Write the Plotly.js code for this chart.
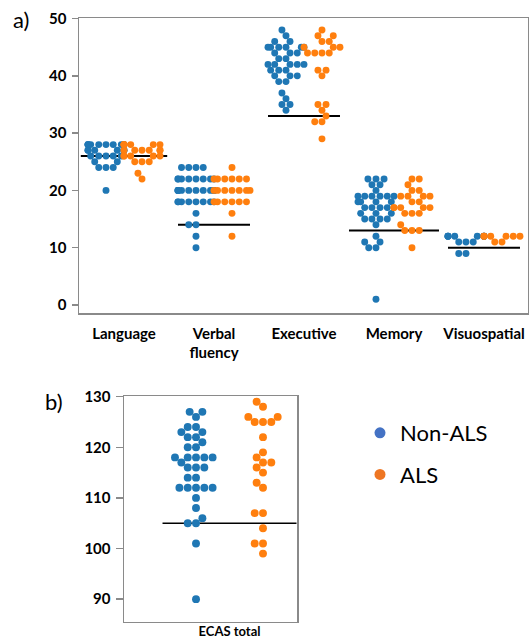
<!DOCTYPE html>
<html>
<head>
<meta charset="utf-8">
<script src="https://cdn.plot.ly/plotly-3.0.1.min.js"></script>
<style>html,body{margin:0;padding:0;background:#fff;}#chart{width:529px;height:641px;}</style>
</head>
<body>
<div id="chart"></div>
<script>
// ---------- data ----------
const categories = ["Language", "Verbal<br>fluency", "Executive", "Memory", "Visuospatial"];
const groupNames = ["Non-ALS", "ALS"];

const langNonALS = [20,24,24,24,25,25,26,26,26,26,26,27,27,27,27,27,27,28,28,28,28,28,28,28,28,28,28];
const langALS    = [22,23,25,25,25,26,26,26,26,26,27,27,27,27,27,27,28,28,28,28,28,28];
const verbNonALS = [10,12,14,14,16,18,18,18,18,18,18,18,18,20,20,20,20,20,20,20,20,20,20,22,22,22,22,22,22,22,22,24,24,24,24];
const verbALS    = [12,16,18,18,18,18,18,18,20,20,20,20,20,20,20,22,22,22,22,22,22,24];
const execNonALS = [34,35,35,36,37,39,39,40,40,40,41,41,41,42,42,42,42,42,43,43,44,44,44,45,45,45,45,45,45,46,46,47,48];
const execALS    = [29,32,32,33,34,35,35,40,41,41,44,44,44,44,45,45,45,46,46,47,47,48];
const memNonALS  = [1,10,10,11,11,12,14,15,15,15,15,16,16,16,17,17,17,17,18,18,18,18,19,19,19,19,19,19,20,21,21,22,22,22];
const memALS     = [10,13,13,13,14,16,16,16,17,17,17,17,17,18,18,19,19,19,19,20,20,21,22,22];
const visNonALS  = [9,9,11,11,11,12,12,12,12,12,12,12,12];
const visALS     = [11,11,12,12,12,12,12,12];
const cutoffs    = [26, 14, 33, 13, 10];

const ecasNonALS = [127,127,126,124,124,123,123,122,122,121,120,120,118,118,118,118,118,117,116,116,116,114,114,112,112,112,112,112,110,108,106,105,105,101,90];
const ecasALS    = [129,128,126,126,125,125,125,122,119,118,117,117,116,115,113,112,107,107,104,101,101,99];
const ecasCutoff = 105;

// ---------- styling / geometry ----------
const W = 529, H = 641;
const colors = ["#1f77b4", "#ff7f0e"];
const legendColors = ["#4472C4", "#EE7623"];
const A = {x0: 79, x1: 528, y0: 18, y1: 313, xr: [-0.5, 4.489], yr: [-1.4, 50.1]};
const B = {x0: 124, x1: 297, y0: 396, y1: 621.7, xr: [-0.63, 0.403], yr: [85.55, 130.13]};
const dotA = 6.9, dotB = 7.9;
const dodge = 0.2, halfWidth = 0.2;
const lineHalfA = [0.48, 0.4, 0.4, 0.5, 0.4];
const lineHalfB = 0.4;

// seaborn-like beeswarm in pixel space
function swarm(values, center, pxX, pxY, D, halfW) {
  const idx = values.map((v, i) => i).sort((a, b) => values[a] - values[b] || a - b);
  const placed = [];
  const out = new Array(values.length);
  for (const i of idx) {
    const y = values[i] * pxY;
    let px = 0;
    if (placed.length) {
      const nb = [];
      for (let k = placed.length - 1; k >= 0; k--) {
        if (y - placed[k].y < D) nb.push(placed[k]); else break;
      }
      nb.reverse();
      const cands = [0];
      let leftFirst = true;
      for (const n of nb) {
        const dy = y - n.y;
        const dx = Math.sqrt(Math.max(D * D - dy * dy, 0)) * 1.05;
        if (leftFirst) cands.push(n.x - dx, n.x + dx); else cands.push(n.x + dx, n.x - dx);
        leftFirst = !leftFirst;
      }
      const order = cands.map((c, j) => j).sort((a, b) => (Math.abs(cands[a]) - Math.abs(cands[b])) || (a - b));
      let found = null;
      for (const j of order) {
        const c = cands[j];
        if (nb.every(n => (n.x - c) * (n.x - c) + (n.y - y) * (n.y - y) >= D * D - 1e-9)) { found = c; break; }
      }
      px = found === null ? 0 : found;
    }
    placed.push({x: px, y: y});
    out[i] = px;
  }
  return out.map(p => center + Math.max(-halfW, Math.min(halfW, p / pxX)));
}

const pxXA = (A.x1 - A.x0) / (A.xr[1] - A.xr[0]);
const pxYA = (A.y1 - A.y0) / (A.yr[1] - A.yr[0]);
const pxXB = (B.x1 - B.x0) / (B.xr[1] - B.xr[0]);
const pxYB = (B.y1 - B.y0) / (B.yr[1] - B.yr[0]);

const panelA = [[langNonALS, langALS], [verbNonALS, verbALS], [execNonALS, execALS], [memNonALS, memALS], [visNonALS, visALS]];

const traces = [];
// cutoff lines (drawn first, under the dots)
const lx = [], ly = [];
cutoffs.forEach((v, c) => { lx.push(c - lineHalfA[c], c + lineHalfA[c], null); ly.push(v, v, null); });
traces.push({type: "scatter", mode: "lines", x: lx, y: ly, xaxis: "x", yaxis: "y",
  line: {color: "#000", width: 2}, showlegend: false, hoverinfo: "skip"});
traces.push({type: "scatter", mode: "lines", x: [-lineHalfB, lineHalfB], y: [ecasCutoff, ecasCutoff],
  xaxis: "x2", yaxis: "y2", line: {color: "#000", width: 1.6}, showlegend: false, hoverinfo: "skip"});

for (let g = 0; g < 2; g++) {
  const xs = [], ys = [];
  panelA.forEach((pair, c) => {
    const vals = pair[g];
    const center = c + (g === 0 ? -dodge : dodge);
    const sx = swarm(vals, center, pxXA, pxYA, dotA, halfWidth);
    vals.forEach((v, i) => { xs.push(sx[i]); ys.push(v); });
  });
  traces.push({type: "scatter", mode: "markers", x: xs, y: ys, xaxis: "x", yaxis: "y",
    marker: {color: colors[g], size: dotA, line: {width: 0}}, name: groupNames[g], showlegend: false});
}
[ecasNonALS, ecasALS].forEach((vals, g) => {
  const center = g === 0 ? -dodge : dodge;
  const sx = swarm(vals, center, pxXB, pxYB, dotB, halfWidth);
  traces.push({type: "scatter", mode: "markers", x: sx, y: vals, xaxis: "x2", yaxis: "y2",
    marker: {color: colors[g], size: dotB, line: {width: 0}}, name: groupNames[g], showlegend: false});
});
// legend entries
groupNames.forEach((n, g) => {
  traces.push({type: "scatter", mode: "markers", x: [null], y: [null], xaxis: "x2", yaxis: "y2",
    name: n, legendgroup: n, marker: {color: legendColors[g], size: 11}, showlegend: true});
});

const fam = "Lato, 'Open Sans', sans-serif";
const tickFont = {family: fam, size: 15, color: "#000", weight: 700};
const axisCommon = {showline: true, mirror: true, linecolor: "#8a8a8a", linewidth: 1.5,
  showgrid: false, zeroline: false, fixedrange: true, tickfont: tickFont};

const layout = {
  width: W, height: H,
  margin: {l: 0, r: 0, t: 0, b: 0},
  paper_bgcolor: "#fff", plot_bgcolor: "#fff",
  showlegend: true,
  legend: {x: 360 / W, y: 1 - 412 / H, xanchor: "left", yanchor: "top", bgcolor: "rgba(0,0,0,0)",
    font: {family: fam, size: 22, color: "#000"},
    traceorder: "grouped", tracegroupgap: 10, itemsizing: "trace"},
  xaxis: Object.assign({}, axisCommon, {domain: [A.x0 / W, A.x1 / W], range: A.xr, anchor: "y",
    tickmode: "array", tickvals: [0, 1, 2, 3, 4], ticktext: categories, ticks: "", ticklabelstandoff: 6}),
  yaxis: Object.assign({}, axisCommon, {domain: [1 - A.y1 / H, 1 - A.y0 / H], range: A.yr, anchor: "x",
    tickmode: "array", tickvals: [0, 10, 20, 30, 40, 50], ticks: "outside", ticklen: 6,
    tickcolor: "#8a8a8a", tickwidth: 1.5, ticklabelstandoff: 2}),
  xaxis2: Object.assign({}, axisCommon, {domain: [B.x0 / W, B.x1 / W], range: B.xr, anchor: "y2",
    tickmode: "array", tickvals: [0], ticktext: ["ECAS total"], ticks: "", ticklabelstandoff: -3,
    tickfont: {family: fam, size: 13, color: "#000", weight: 700}}),
  yaxis2: Object.assign({}, axisCommon, {domain: [1 - B.y1 / H, 1 - B.y0 / H], range: B.yr, anchor: "x2",
    tickmode: "array", tickvals: [90, 100, 110, 120, 130], ticks: "outside", ticklen: 7,
    tickcolor: "#8a8a8a", tickwidth: 1.5, ticklabelstandoff: 2}),
  annotations: [
    {text: "a)", xref: "paper", yref: "paper", x: 21 / W, y: 1 - 20 / H, xanchor: "center", yanchor: "middle",
      showarrow: false, font: {family: fam, size: 22, color: "#000"}},
    {text: "b)", xref: "paper", yref: "paper", x: 54 / W, y: 1 - 402 / H, xanchor: "center", yanchor: "middle",
      showarrow: false, font: {family: fam, size: 22, color: "#000"}}
  ]
};

Plotly.newPlot("chart", traces, layout, {displayModeBar: false, staticPlot: true});
</script>
</body>
</html>
